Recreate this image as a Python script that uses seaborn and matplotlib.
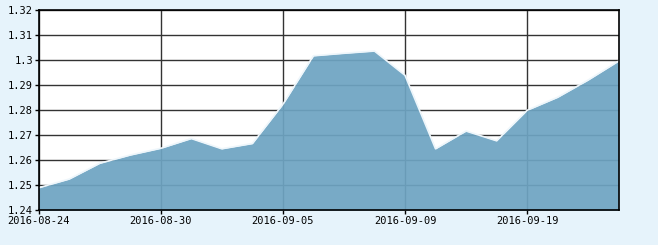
import matplotlib
matplotlib.use("Agg")
import matplotlib.pyplot as plt
import seaborn as sns
import pandas as pd
import numpy as np

dates = ["2016-08-24", "2016-08-25", "2016-08-26", "2016-08-29", "2016-08-30",
         "2016-08-31", "2016-09-01", "2016-09-02", "2016-09-05", "2016-09-06",
         "2016-09-07", "2016-09-08", "2016-09-09", "2016-09-12", "2016-09-13",
         "2016-09-14", "2016-09-19", "2016-09-20", "2016-09-21", "2016-09-22"]
values = [1.249, 1.2525, 1.2588, 1.2621, 1.2648, 1.2687, 1.2646, 1.2667, 1.2824, 1.3018,
          1.3028, 1.3037, 1.294, 1.2646, 1.2717, 1.2678, 1.280, 1.2852, 1.2921, 1.2997]
tick_dates = ["2016-08-24", "2016-08-30", "2016-09-05", "2016-09-09", "2016-09-19"]
y_ticks = [1.24, 1.25, 1.26, 1.27, 1.28, 1.29, 1.3, 1.31, 1.32]
y_labels = ["1.24", "1.25", "1.26", "1.27", "1.28", "1.29", "1.3", "1.31", "1.32"]

sns.set_style("white")
plt.rcParams['font.family'] = ['DejaVu Sans Mono', 'DejaVu Sans']

df = pd.DataFrame({"idx": np.arange(len(dates)), "date": dates, "value": values})

fig = plt.figure(figsize=(6.58, 2.45), dpi=100, facecolor="#e6f3fb")
ax = fig.add_axes([38.7 / 658, 1 - 210.3 / 245, 580 / 658, 200 / 245])
ax.set_facecolor("white")

ax.set_xlim(0, len(dates) - 1)
ax.set_ylim(1.24, 1.32)
tick_pos = [dates.index(d) for d in tick_dates]
ax.set_xticks(tick_pos)
ax.set_xticklabels(tick_dates)
ax.set_yticks(y_ticks)
ax.set_yticklabels(y_labels)
ax.grid(True, color="#333333", linewidth=1.0)
ax.set_axisbelow(True)

ax.fill_between(df["idx"], df["value"], 1.24, color="#6ea4c2", alpha=0.93, linewidth=0, zorder=2)
sns.lineplot(data=df, x="idx", y="value", ax=ax, color="#eef6fb", linewidth=1.2, zorder=3)

ax.set_xlabel("")
ax.set_ylabel("")
for s in ax.spines.values():
    s.set_color("black")
    s.set_linewidth(1.2)
    s.set_zorder(5)
ax.tick_params(axis="both", which="major", direction="out", length=3, width=1,
               color="black", labelsize=7.5, labelcolor="black", pad=1,
               bottom=True, left=True)

fig.savefig("out.png", dpi=100, facecolor=fig.get_facecolor())
